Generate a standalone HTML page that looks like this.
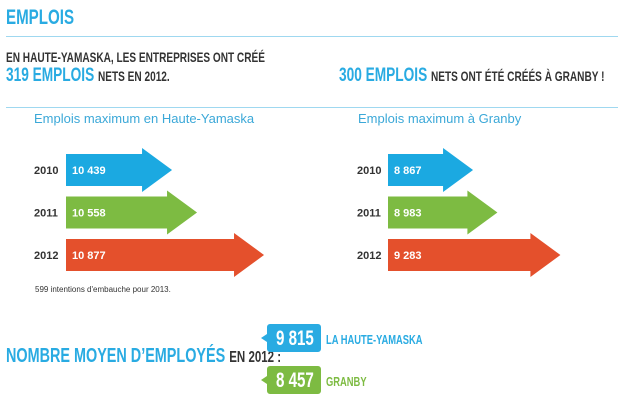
<!DOCTYPE html>
<html><head><meta charset="utf-8"><style>
body{margin:0;width:624px;height:412px;background:#fff;overflow:hidden;font-family:"Liberation Sans",sans-serif;position:relative}
.c{position:absolute;font-weight:bold;transform-origin:0 0;transform:scaleX(0.72);white-space:nowrap;line-height:1}
.b{color:#29abe2}.d{color:#333}
.hr{position:absolute;left:6px;height:1px;background:#9fd8f0}
</style></head><body>
<div class="c b" style="left:6px;top:7px;font-size:21px">EMPLOIS</div>
<div class="hr" style="top:36px;width:612px"></div>
<div class="c d" style="left:6px;top:50px;font-size:14px">EN HAUTE-YAMASKA, LES ENTREPRISES ONT CRÉÉ</div>
<div class="c" style="left:6px;top:66px;font-size:19px"><span class="b">319 EMPLOIS</span> <span class="d" style="font-size:14px">NETS EN 2012.</span></div>
<div class="c" style="left:339px;top:66px;font-size:19px"><span class="b">300 EMPLOIS</span> <span class="d" style="font-size:14px">NETS ONT ÉTÉ CRÉÉS À GRANBY !</span></div>
<div class="hr" style="top:107px;width:612px"></div>
<div style="position:absolute;left:34px;top:111px;font-size:13px;color:#3ba8d8">Emplois maximum en Haute-Yamaska</div>
<div style="position:absolute;left:358px;top:111px;font-size:13px;color:#3ba8d8">Emplois maximum à Granby</div>
<svg id="ch" width="624" height="412" style="position:absolute;left:0;top:0"></svg>
<div style="position:absolute;left:35px;top:285px;font-size:8px;color:#333">599 intentions d'embauche pour 2013.</div>
<div class="c" style="left:6px;top:346px;font-size:20px"><span class="b">NOMBRE MOYEN D’EMPLOYÉS</span> <span class="d" style="font-size:16px">EN 2012 :</span></div>
<svg width="624" height="412" style="position:absolute;left:0;top:0">
<path d="M270 324h48a3 3 0 0 1 3 3v22a3 3 0 0 1-3 3h-48a3 3 0 0 1-3-3v-7l-6-4 6-4v-7a3 3 0 0 1 3-3z" fill="#29abe2"/>
<path d="M270 366h48a3 3 0 0 1 3 3v22a3 3 0 0 1-3 3h-48a3 3 0 0 1-3-3v-7l-6-4 6-4v-7a3 3 0 0 1 3-3z" fill="#7dbb42"/>
</svg>
<div class="c" style="left:276px;top:328px;font-size:21px;color:#fff">9 815</div>
<div class="c b" style="left:326px;top:333px;font-size:13px">LA HAUTE-YAMASKA</div>
<div class="c" style="left:276px;top:370px;font-size:21px;color:#fff">8 457</div>
<div class="c" style="left:326px;top:375px;font-size:13px;color:#7dbb42">GRANBY</div>
<script>
const years=["2010","2011","2012"];
const hyValues=[10439,10558,10877];
const grValues=[8867,8983,9283];
const colors=["#1ba9e1","#7dbb42","#e4502c"];
const svg=document.getElementById('ch');
const NS="http://www.w3.org/2000/svg";
function yPos(i){return 170+i*42.5;}
function xHY(v){return 66+(v-9934)*0.21;}
function xGR(v){return 388+(v-8462)*0.21;}
function draw(vals,x0,xf,yrX,name){
 vals.forEach((v,i)=>{
  const cy=yPos(i),tip=xf(v),hs=tip-30;
  const p=document.createElementNS(NS,'path');
  p.setAttribute('d',`M${x0} ${cy-16}H${hs}V${cy-22}L${tip} ${cy}L${hs} ${cy+22}V${cy+16}H${x0}Z`);
  p.setAttribute('fill',colors[i]);
  
  
  svg.appendChild(p);
  const t=document.createElementNS(NS,'text');
  t.setAttribute('x',x0+6);t.setAttribute('y',cy+4);
  t.setAttribute('fill','#fff');t.setAttribute('font-size','11');t.setAttribute('font-weight','bold');
  t.setAttribute('font-family','Liberation Sans, sans-serif');
  t.textContent=v.toLocaleString('en-US').replace(',',' ');
  
  
  svg.appendChild(t);
  const y=document.createElementNS(NS,'text');
  y.setAttribute('x',yrX);y.setAttribute('y',cy+4);
  y.setAttribute('fill','#333');y.setAttribute('font-size','11');y.setAttribute('font-weight','bold');
  y.setAttribute('font-family','Liberation Sans, sans-serif');
  y.textContent=years[i];
  
  
  svg.appendChild(y);
 });
}
draw(hyValues,66,xHY,34,'haute-yamaska');
draw(grValues,388,xGR,357,'granby');
</script>
</body></html>
